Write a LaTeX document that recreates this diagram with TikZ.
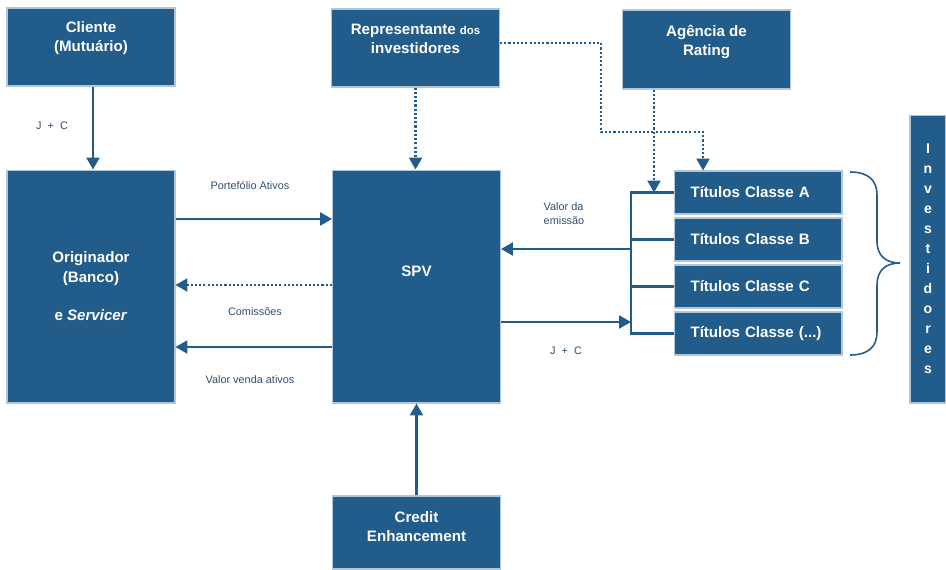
\documentclass[tikz,border=0pt]{standalone}
\usepackage{fontspec}
\setmainfont{Liberation Sans}
\usetikzlibrary{arrows.meta}
\definecolor{azul}{HTML}{215C8B}
\definecolor{cinza}{HTML}{2F4F6F}
\tikzset{
    bloco/.style={rectangle, fill=azul, draw=azul!35, line width=0.6pt, minimum width=3.36cm, inner sep=0pt}, % caixas azuis
    rotulo/.style={text=white, font=\fontsize{8.6}{11}\bfseries\selectfont, align=center}, % texto das caixas
    nota/.style={text=cinza, font=\fontsize{6.2}{8}\selectfont, align=center}, % textos junto das setas
    seta/.style={draw=azul, line width=1.2pt, -{Triangle[width=7.4pt,length=6.8pt]}},
    pontos/.style={seta, dash pattern=on 1.2pt off 1.2pt},
    linha/.style={draw=azul, line width=1.2pt},
    titulo/.style={bloco, rotulo, minimum height=0.86cm, text width=2.7cm, inner xsep=0.33cm, align=left}
}

\begin{document}
\begin{tikzpicture}[x=0.02cm, y=-0.02cm]
    \useasboundingbox (0,0) rectangle (946,569);

    % caixas
    \node[bloco, minimum height=1.56cm] (cliente) at (91,47) {};
    \node[rotulo] (tcliente) at ([yshift=0.18cm]cliente.center) {Cliente\\(Mutuário)};
    \node[bloco, minimum height=1.56cm] (rep) at (415.5,48) {};
    \node[rotulo] (trep) at ([yshift=0.18cm]rep.center) {Representante {\fontsize{6.5}{8}\selectfont dos}\\investidores};
    \node[bloco, minimum height=1.58cm] (ag) at (706.5,49.5) {};
    \node[rotulo] (tag) at ([yshift=0.15cm]ag.center) {Agência de\\Rating};
    \node[bloco, minimum height=4.66cm, rotulo] (orig) at (91,286.5) {Originador\\(Banco)\\[11pt]e \textit{Servicer}};
    \node[bloco, minimum height=4.66cm] (spv) at (416.5,286.5) {};
    \node[rotulo] (tspv) at ([yshift=0.31cm]spv.center) {SPV};
    \node[bloco, minimum height=1.46cm] (cred) at (416.5,532.5) {};
    \node[rotulo] (tcred) at ([yshift=0.12cm]cred.center) {Credit\\Enhancement};

    \node[titulo] (ta) at (758,192.5) {Títulos Classe A};
    \node[titulo] (tb) at (758,239.5) {Títulos Classe B};
    \node[titulo] (tc) at (758,286.5) {Títulos Classe C};
    \node[titulo] (tx) at (758,333.5) {Títulos Classe (...)};

    \node[bloco, rotulo, minimum width=0.72cm, minimum height=5.76cm, font=\fontsize{8}{11.4}\bfseries\selectfont] (inv) at (928,259) {I\\n\\v\\e\\s\\t\\i\\d\\o\\r\\e\\s};

    % chaveta
    \draw[azul, line width=0.9pt] (850,172) .. controls (868,172) and (877,180) .. (877,195) -- (877,241)
        .. controls (877,256) and (886,263) .. (900,263) .. controls (886,263) and (877,270) .. (877,285)
        -- (877,332) .. controls (877,347) and (868,355) .. (850,355);

    % setas
    \draw[seta] ([xshift=0.04cm]cliente.south) -- ([xshift=0.04cm]orig.north);
    \draw[pontos] (rep.south) -- (rep.south |- spv.north);
    \draw[seta] (cred.north) -- (spv.south);
    \draw[seta] (orig.east |- 0,219) -- (spv.west |- 0,219);
    \draw[pontos] (spv.west |- 0,285) -- (orig.east |- 0,285);
    \draw[seta] (spv.west |- 0,347) -- (orig.east |- 0,347);

    \coordinate (barra) at (631,0);
    \draw[linha] (ta.west) -- (ta.west -| barra) -- (tx.west -| barra) -- (tx.west);
    \foreach \t in {tb,tc} {\draw[linha] (\t.west) -- (\t.west -| barra);}
    \draw[seta] (barra |- 0,249) -- (spv.east |- 0,249);
    \draw[seta] (spv.east |- 0,322) -- (barra |- 0,322);

    \draw[pontos] ([yshift=0.1cm]rep.east) -| (601,132) -| ([xshift=-1.1cm]ta.north);
    \draw[pontos] ([xshift=-1.05cm]ag.south) -- ([xshift=-1.05cm]ag.south |- ta.west);

    % textos
    \node[nota] (jc1) at (52,126) {J\hspace{3.5pt}+\hspace{3.5pt}C};
    \node[nota] (port) at (250,186) {Portefólio Ativos};
    \node[nota] (comis) at (255,312) {Comissões};
    \node[nota] (venda) at (250,380) {Valor venda ativos};
    \node[nota, align=left] (emis) at (564,214) {Valor da\\emissão};
    \node[nota] (jc2) at (566,351) {J\hspace{3.5pt}+\hspace{3.5pt}C};
\end{tikzpicture}
\end{document}
